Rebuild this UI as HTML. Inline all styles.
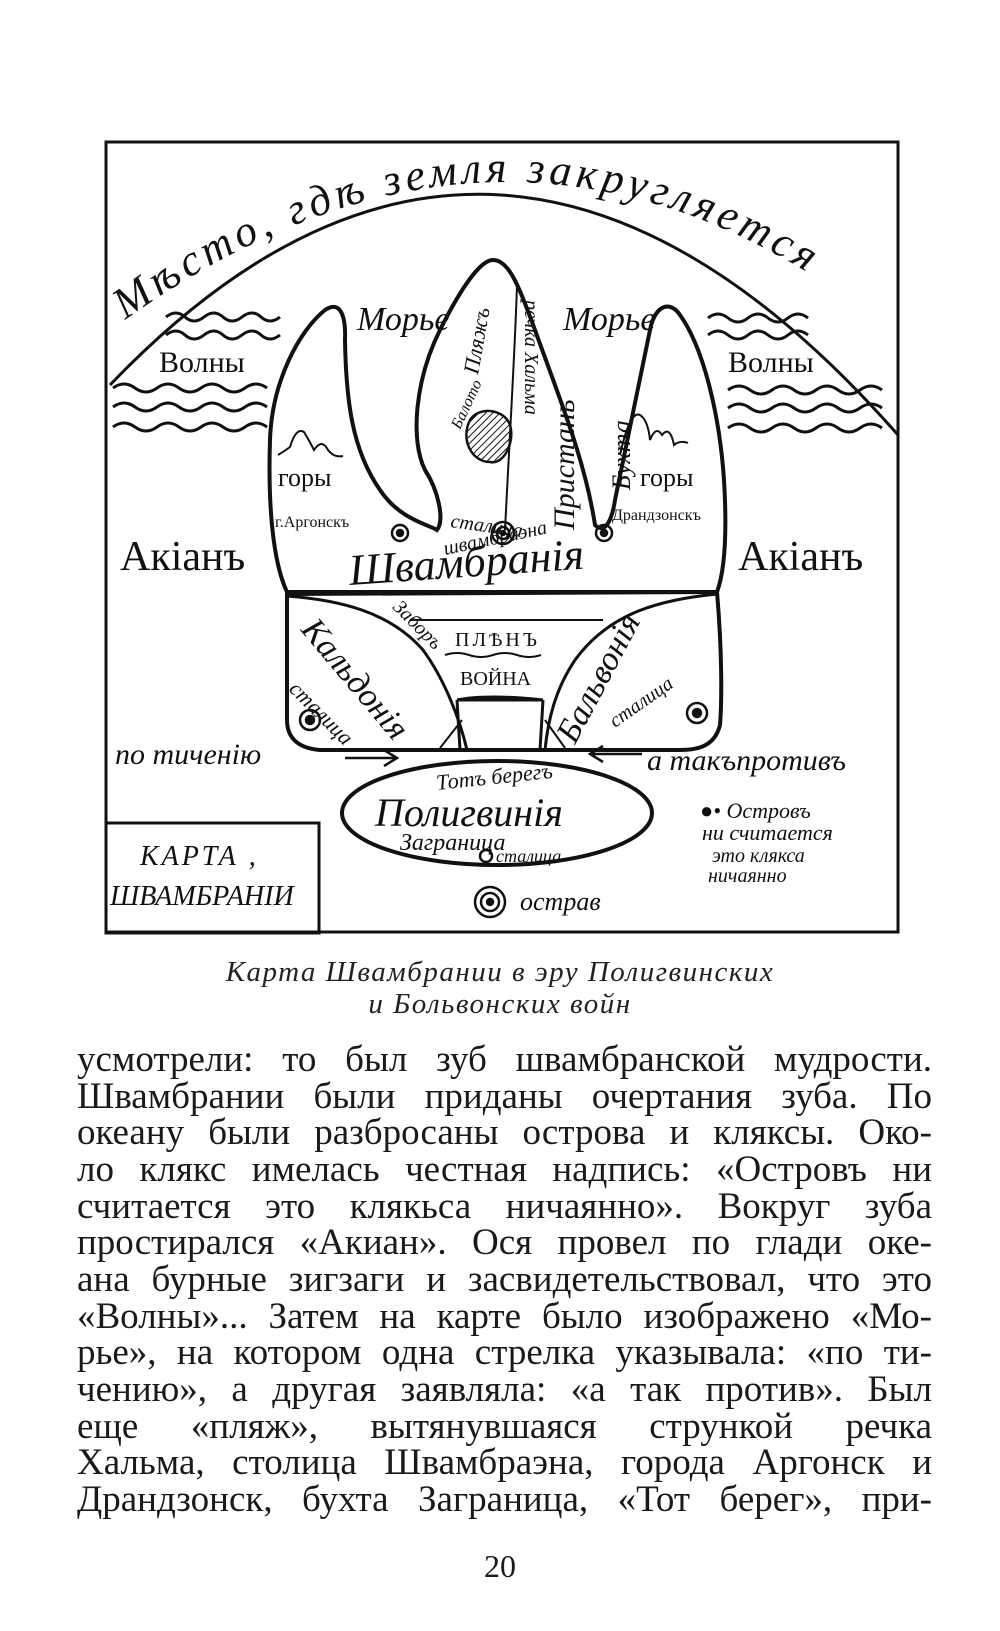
<!DOCTYPE html>
<html><head><meta charset="utf-8"><style>
html,body{margin:0;padding:0;background:#fff;}
body{width:1000px;height:1631px;position:relative;overflow:hidden;}
svg{position:absolute;left:0;top:0;}
.cap{position:absolute;left:0;width:1000px;text-align:center;font-family:"Liberation Serif",serif;font-style:italic;font-size:29px;letter-spacing:1.5px;color:#222;}
.ln{position:absolute;left:77px;width:855px;font-family:"Liberation Serif",serif;font-size:37px;color:#1a1a1a;text-align:justify;text-align-last:justify;white-space:nowrap;line-height:40px;height:40px;}
.pg{position:absolute;left:0;width:1000px;text-align:center;top:1548px;font-family:"Liberation Serif",serif;font-size:32px;color:#1a1a1a;}
</style></head><body>
<svg width="1000" height="1000" viewBox="0 0 1000 1000" font-family="Liberation Serif, serif" fill="none" stroke="#111">
<defs>
<pattern id="h" width="5" height="5" patternUnits="userSpaceOnUse" patternTransform="rotate(45)"><line x1="0" y1="0" x2="0" y2="5" stroke="#111" stroke-width="2"/></pattern>
<path id="tp" d="M125,320 Q490,60 835,290"/>
</defs>
<rect x="106" y="142" width="792" height="790" stroke-width="3"/>
<path d="M110,385 Q498,-20 898,435" stroke-width="3"/>
<text font-size="44" font-style="italic" fill="#111" stroke="none"><textPath href="#tp" textLength="730" lengthAdjust="spacing">Мѣсто, гдѣ земля закругляется</textPath></text>
<g stroke-width="3">
<path d="M166,317 q10,-8 19,0 t19,0 t19,0 t19,0 t19,0 t19,0"/>
<path d="M166,335 q10,-8 19,0 t19,0 t19,0 t19,0 t19,0 t19,0"/>
<path d="M113,388 q11,-8 22,0 t22,0 t22,0 t22,0 t22,0 t22,0 t22,0"/>
<path d="M113,407 q11,-8 22,0 t22,0 t22,0 t22,0 t22,0 t22,0 t22,0"/>
<path d="M113,427 q11,-8 22,0 t22,0 t22,0 t22,0 t22,0 t22,0 t22,0"/>
<path d="M708,318 q10,-8 20,0 t20,0 t20,0 t20,0 t20,0"/>
<path d="M708,335 q10,-8 20,0 t20,0 t20,0 t20,0 t20,0"/>
<path d="M728,390 q11,-8 22,0 t22,0 t22,0 t22,0 t22,0 t22,0 t22,0"/>
<path d="M728,408 q11,-8 22,0 t22,0 t22,0 t22,0 t22,0 t22,0 t22,0"/>
<path d="M728,428 q11,-8 22,0 t22,0 t22,0 t22,0 t22,0 t22,0 t22,0"/>
</g>
<!-- tooth -->
<path d="M287,592 C272,560 268,500 270,440 C272,380 300,330 325,310 C340,300 346,315 345,340 C346,400 352,450 380,490 C400,520 430,525 437,530 C445,520 438,490 425,470 C410,440 415,380 440,330 C460,290 480,260 493,260 C510,260 520,290 535,330 C560,400 585,460 595,525 C605,535 612,520 615,500 C625,450 640,380 650,330 C655,305 670,300 680,315 C705,350 720,420 724,480 C727,530 725,570 717,592 Z" stroke-width="4"/>
<path d="M517,285 C515,350 510,430 505,530" stroke-width="2"/>
<path d="M287,594 L717,592 C722,650 722,700 720,725 C715,745 700,750 680,750 L320,750 C295,748 287,735 287,720 Z" stroke-width="4"/>
<path d="M287,596 C340,600 390,612 423,650 C445,680 460,720 467,750" stroke-width="3"/>
<path d="M717,594 C660,600 610,612 575,660 C555,690 548,720 545,750" stroke-width="3"/>
<path d="M410,620 L603,620" stroke-width="2"/>
<path d="M445,655 q12,-4 24,0 t24,0 t24,0 t24,0" stroke-width="2"/>
<path d="M457,700 L543,700 M457,700 L460,750 M543,700 L540,750 M457,700 q30,-6 86,0" stroke-width="3"/>
<path d="M440,748 L462,720 M545,720 L565,748" stroke-width="2"/>
<path d="M470,420 C480,405 505,410 510,425 C515,440 505,465 490,462 C472,462 460,440 470,420 Z" stroke-width="2.5" fill="url(#h)"/>
<path d="M278,455 q8,-5 12,-8 q6,-20 14,-15 q6,10 10,18 q8,-12 14,0 q6,8 15,6" stroke-width="2"/>
<path d="M620,455 q10,-45 20,-40 q8,5 10,25 q6,-15 12,-5 q8,-10 12,10 q6,-5 14,-2" stroke-width="2"/>
<g stroke-width="2.5">
<circle cx="400" cy="533" r="8"/><circle cx="400" cy="533" r="3" fill="#111"/>
<circle cx="604" cy="533" r="8"/><circle cx="604" cy="533" r="3" fill="#111"/>
<circle cx="503" cy="533" r="11"/><circle cx="503" cy="533" r="6"/><circle cx="503" cy="533" r="2" fill="#111"/>
<circle cx="310" cy="720" r="10"/><circle cx="310" cy="720" r="4" fill="#111"/>
<circle cx="697" cy="713" r="10"/><circle cx="697" cy="713" r="4" fill="#111"/>
<circle cx="490" cy="902" r="15"/><circle cx="490" cy="902" r="9"/><circle cx="490" cy="902" r="3" fill="#111"/>
<circle cx="486" cy="856" r="6"/>
</g>
<g stroke-width="2.5">
<path d="M345,758 L396,758 M384,750 L397,758 L384,766"/>
<path d="M642,754 L591,754 M603,746 L590,754 L603,762"/>
</g>
<ellipse cx="497" cy="813" rx="155" ry="52" stroke-width="4"/>
<rect x="106" y="823" width="213" height="110" stroke-width="3"/>
<g fill="#111" stroke="none" font-style="italic">
<text x="357" y="330" font-size="34">Морье</text>
<text x="563" y="330" font-size="34">Морье</text>
<text x="159" y="372" font-size="30" font-style="normal">Волны</text>
<text x="728" y="372" font-size="30" font-style="normal">Волны</text>
<text x="120" y="570" font-size="42" font-style="normal">Акіанъ</text>
<text x="738" y="570" font-size="42" font-style="normal">Акіанъ</text>
<text x="278" y="486" font-size="26" font-style="normal">горы</text>
<text x="640" y="486" font-size="26" font-style="normal">горы</text>
<text x="275" y="527" font-size="16" font-style="normal">г.Аргонскъ</text>
<text x="612" y="520" font-size="16" font-style="normal">Драндзонскъ</text>
<text transform="translate(478,375) rotate(-80)" font-size="22">Пляжъ</text>
<text transform="translate(525,300) rotate(90)" font-size="20">речка Хальма</text>
<text transform="translate(574,530) rotate(-90)" font-size="30">Пристань</text>
<text transform="translate(630,490) rotate(-90)" font-size="26">Бухта</text>
<text transform="translate(460,430) rotate(-65)" font-size="16">Балото</text>
<text transform="translate(450,527) rotate(8)" font-size="20">сталица</text>
<text transform="translate(445,555) rotate(-12)" font-size="20">швамбраэна</text>
<text transform="translate(350,585) rotate(-4)" font-size="44">Швамбранія</text>
<text transform="translate(392,608) rotate(45)" font-size="20">Заборъ</text>
<text transform="translate(300,630) rotate(50)" font-size="34">Кальдонія</text>
<text transform="translate(288,690) rotate(45)" font-size="22">сталица</text>
<text transform="translate(575,745) rotate(-62)" font-size="34">Бальвонія</text>
<text transform="translate(615,728) rotate(-35)" font-size="20">сталица</text>
<text x="455" y="646" font-size="20" font-style="normal" letter-spacing="3">ПЛѢНЪ</text>
<text x="460" y="685" font-size="20" font-style="normal">ВОЙНА</text>
<text x="115" y="764" font-size="30">по тиченію</text>
<text x="647" y="770" font-size="30">а такъпротивъ</text>
<text transform="translate(437,790) rotate(-6)" font-size="22">Тотъ берегъ</text>
<text x="375" y="826" font-size="40">Полигвинія</text>
<text x="400" y="850" font-size="24">Заграница</text>
<text x="496" y="862" font-size="18">сталица</text>
<text x="700" y="818" font-size="22">●• Островъ</text>
<text x="702" y="840" font-size="22">ни считается</text>
<text x="712" y="862" font-size="20">это клякса</text>
<text x="708" y="882" font-size="20">ничаянно</text>
<text x="520" y="910" font-size="26">острав</text>
<text x="140" y="865" font-size="28" letter-spacing="3">КАРТА ,</text>
<text x="110" y="905" font-size="28">ШВАМБРАНІИ</text>
</g>
</svg>
<div class="cap" style="top:956px">Карта Швамбрании в эру Полигвинских</div>
<div class="cap" style="top:988px">и Больвонских войн</div>
<div class="ln" style="top:1040px">усмотрели: то был зуб швамбранской мудрости.</div>
<div class="ln" style="top:1077px">Швамбрании были приданы очертания зуба. По</div>
<div class="ln" style="top:1113px">океану были разбросаны острова и кляксы. Око-</div>
<div class="ln" style="top:1150px">ло клякс имелась честная надпись: «Островъ ни</div>
<div class="ln" style="top:1187px">считается это клякьса ничаянно». Вокруг зуба</div>
<div class="ln" style="top:1223px">простирался «Акиан». Ося провел по глади оке-</div>
<div class="ln" style="top:1260px">ана бурные зигзаги и засвидетельствовал, что это</div>
<div class="ln" style="top:1297px">«Волны»... Затем на карте было изображено «Мо-</div>
<div class="ln" style="top:1333px">рье», на котором одна стрелка указывала: «по ти-</div>
<div class="ln" style="top:1370px">чению», а другая заявляла: «а так против». Был</div>
<div class="ln" style="top:1407px">еще «пляж», вытянувшаяся стрункой речка</div>
<div class="ln" style="top:1443px">Хальма, столица Швамбраэна, города Аргонск и</div>
<div class="ln" style="top:1480px">Драндзонск, бухта Заграница, «Тот берег», при-</div>
<div class="pg">20</div>
</body></html>
